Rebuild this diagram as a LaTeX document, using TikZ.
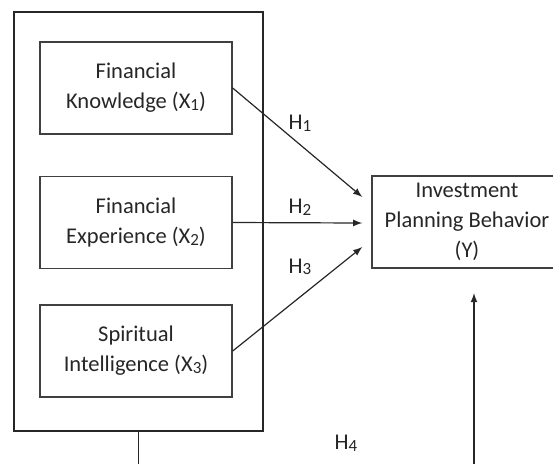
\documentclass[tikz,border=0pt]{standalone}
\usepackage{fontspec}
\setmainfont{Carlito}
\usepackage{tikz}
\usetikzlibrary{positioning,calc,arrows}

\newcommand{\idx}[1]{\raisebox{-0.15ex}{\fontsize{8.5}{10}\selectfont #1}}

\begin{document}
\begin{tikzpicture}[
        x=0.5pt,y=-0.5pt,
        font=\fontsize{11.25}{15}\selectfont,
        every node/.style={text=black!85},
        var/.style={
          draw=black!75,
          line width=0.7pt,
          minimum width=96pt,
          minimum height=46pt,
          align=center,
          inner sep=0pt
        },
        link/.style={
          draw=black!85,
          line width=0.6pt,
          -latex
        }
        ]
        \clip (0,0) rectangle (553,463);

        \node[var,minimum width=124.5pt,minimum height=209.5pt,draw=black!85] at (138.5,221.5)
          (outer) {};
        \node[var] at (136,88)
          (fk) {Financial\\Knowledge (X\idx{1})};
        \node[var] at (136,222.5)
          (fe) {Financial\\Experience (X\idx{2})};
        \node[var] at (136,351)
          (si) {Spiritual\\Intelligence (X\idx{3})};
        \node[var,minimum width=95pt] at (467,222)
          (ipb) {Investment\\Planning Behavior\\(Y)};

        \coordinate (t1) at ($(ipb.west)+(-9,-25)$);
        \coordinate (t2) at ($(ipb.west)+(-9,1)$);
        \coordinate (t3) at ($(ipb.west)+(-9,25)$);
        \coordinate (t4) at (474,293);

        \draw[link] (fk.east) -- (t1);
        \draw[link] (fe.east) -- (t2);
        \draw[link] (si.east) -- (t3);
        \draw[link] (outer.south) -- ++(0,60) -| (t4);

        \node at (300,123) (h1) {H\idx{1}};
        \node at (300,207) (h2) {H\idx{2}};
        \node at (300,267) (h3) {H\idx{3}};
        \node at (346,443) (h4) {H\idx{4}};
    \end{tikzpicture}
\end{document}
